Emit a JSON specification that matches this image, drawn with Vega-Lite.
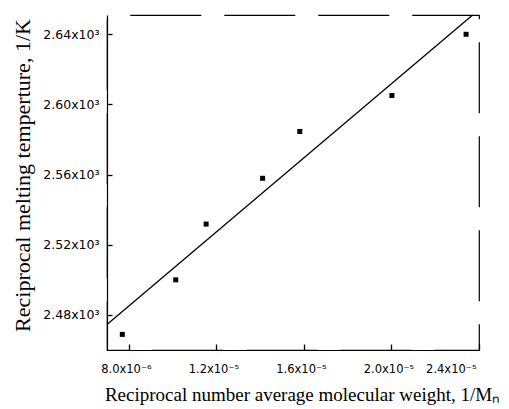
{
  "$schema": "https://vega.github.io/schema/vega-lite/v6.json",
  "width": 372,
  "height": 335,
  "autosize": {"type": "none"},
  "padding": {"left": 107, "top": 15, "right": 30, "bottom": 59},
  "background": "white",
  "config": {
    "view": {"stroke": "black", "strokeWidth": 1.2, "strokeDash": [71, 23], "strokeDashOffset": 71},
    "axis": {
      "domainColor": "black", "domainWidth": 1.2, "tickColor": "black", "tickWidth": 1.3, "ticks": true,
      "grid": false, "labelFont": "DejaVu Sans", "labelFontSize": 12.5, "labelColor": "black",
      "titleFont": "Liberation Serif", "titleFontWeight": "normal", "titleColor": "black"
    }
  },
  "datasets": {
    "points": [
      {"x": 7.70e-6, "y": 0.0024689},
      {"x": 1.014e-5, "y": 0.0025000},
      {"x": 1.153e-5, "y": 0.0025318},
      {"x": 1.411e-5, "y": 0.0025579},
      {"x": 1.581e-5, "y": 0.0025846},
      {"x": 2.002e-5, "y": 0.0026051},
      {"x": 2.341e-5, "y": 0.0026400}
    ],
    "fit": [
      {"x": 7.0e-6, "y": 0.0024746},
      {"x": 2.371e-5, "y": 0.002651}
    ]
  },
  "layer": [
    {
      "data": {"name": "fit"},
      "mark": {"type": "line", "color": "black", "strokeWidth": 1.3},
      "encoding": {
        "x": {"field": "x", "type": "quantitative", "scale": {"domain": [7.0e-6, 2.4e-5], "nice": false, "zero": false},
          "axis": {"values": [8e-6, 1.2e-5, 1.6e-5, 2.0e-5, 2.4e-5], "tickSize": -6, "labelPadding": 28, "labelBaseline": "alphabetic",
            "labelFontSize": 11.5, "labelOffset": -3,
            "labelExpr": "datum.value < 1e-5 ? format(datum.value*1e6, '.1f') + 'x10⁻⁶' : format(datum.value*1e5, '.1f') + 'x10⁻⁵'",
            "title": "Reciprocal number average molecular weight, 1/Mₙ", "titleFontSize": 19, "titleX": 195, "titleY": 50, "titleBaseline": "alphabetic", "titleAnchor": "middle", "titleAlign": "center"}},
        "y": {"field": "y", "type": "quantitative", "scale": {"domain": [0.00246, 0.002651], "nice": false, "zero": false},
          "axis": {"values": [0.00248, 0.00252, 0.00256, 0.0026, 0.00264], "tickSize": -5, "labelPadding": 13,
            "labelExpr": "format(datum.value*1000, '.2f') + 'x10³'",
            "title": "Reciprocal melting temperture, 1/K", "titleFontSize": 22, "titleX": -85, "titleY": 160, "titleAngle": -90, "titleBaseline": "middle", "titleAlign": "center", "titleAnchor": "middle"}}
      }
    },
    {
      "data": {"name": "points"},
      "mark": {"type": "square", "color": "black", "opacity": 1, "size": 25},
      "encoding": {
        "x": {"field": "x", "type": "quantitative"},
        "y": {"field": "y", "type": "quantitative"}
      }
    }
  ]
}
